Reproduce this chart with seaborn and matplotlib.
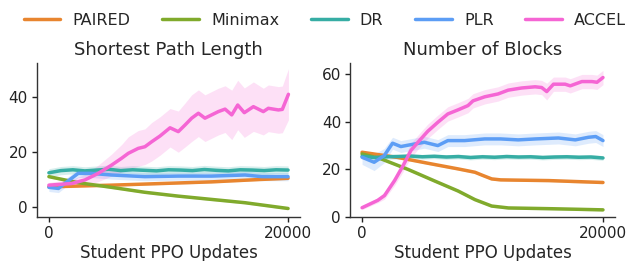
import numpy as np
import pandas as pd
import matplotlib
matplotlib.use("Agg")
import matplotlib.pyplot as plt
import seaborn as sns

methods = ["PAIRED", "Minimax", "DR", "PLR", "ACCEL"]
colors = ["#e8852f", "#80aa2c", "#36ada4", "#5c9df5", "#f565d4"]

titles = ["Shortest Path Length", "Number of Blocks"]
xlabel = "Student PPO Updates"

# ---------------- Shortest Path Length ----------------
sp_paired_x = [0, 5240, 9430, 13610, 17800, 20000]
sp_paired_y = [7.4, 8.0, 8.6, 9.2, 10.1, 10.5]
sp_paired_ci = [0.4, 0.4, 0.4, 0.4, 0.4, 0.4]

sp_minimax_x = [0, 2450, 5240, 8030, 10820, 13610, 16400, 20000]
sp_minimax_y = [11.1, 8.9, 7.2, 5.4, 4.0, 2.8, 1.6, -0.5]
sp_minimax_ci = [0.4, 0.4, 0.4, 0.4, 0.4, 0.4, 0.4, 0.4]

sp_dr_x = [0, 1000, 2000, 3000, 4000, 5000, 6000, 7000, 8000, 9000, 10000,
           11000, 12000, 13000, 14000, 15000, 16000, 17000, 18000, 19000, 20000]
sp_dr_y = [12.5, 13.3, 13.6, 13.2, 13.5, 13.8, 13.3, 13.6, 13.4, 13.2, 13.6,
           13.5, 13.3, 13.7, 13.4, 13.2, 13.6, 13.5, 13.3, 13.6, 13.5]
sp_dr_ci = [1.5] * 21

sp_plr_x = [0, 800, 1500, 2450, 3500, 5240, 8030, 10820, 13610, 16400, 17800, 20000]
sp_plr_y = [7.2, 6.8, 9.2, 12.3, 12.3, 11.7, 11.1, 11.3, 11.3, 11.7, 11.1, 11.1]
sp_plr_ci = [1.5, 1.5, 1.5, 1.5, 1.5, 1.5, 1.5, 1.5, 1.5, 1.5, 1.5, 1.5]

sp_accel_x = [0, 1900, 3010, 4130, 5240, 6080, 6640, 7470, 8030, 8590, 9290,
              10130, 10820, 11380, 11940, 12500, 13050, 13610, 14170, 14730,
              15290, 15790, 16340, 17100, 17930, 18350, 19190, 19520, 20030]
sp_accel_y = [8.0, 8.6, 9.9, 12.3, 15.3, 17.8, 19.6, 21.4, 22.0, 23.8, 25.9,
              28.9, 27.5, 29.9, 32.4, 34.2, 32.4, 33.6, 34.8, 35.7,
              33.6, 37.2, 34.4, 36.6, 34.8, 36.0, 35.4, 35.6, 41.1]
sp_accel_ci = [1.0, 1.5, 2.0, 3.0, 4.0, 5.0, 6.0, 6.5, 6.5, 7.0, 7.0,
               7.0, 7.5, 8.0, 8.5, 8.5, 8.5, 8.5, 8.5, 8.5,
               9.0, 9.0, 9.0, 9.0, 8.5, 8.5, 8.5, 8.5, 9.3]

# ---------------- Number of Blocks ----------------
nb_paired_x = [0, 2980, 5760, 7980, 9370, 10000, 10760, 11500, 12680, 15500, 18270, 20000]
nb_paired_y = [27.2, 25.0, 22.3, 20.2, 18.8, 17.5, 16.0, 15.6, 15.5, 15.3, 14.8, 14.5]
nb_paired_ci = [0.5] * 12

nb_minimax_x = [0, 1590, 3810, 6040, 7980, 9370, 10760, 12150, 15500, 18270, 20000]
nb_minimax_y = [26.5, 24.4, 20.0, 15.1, 10.9, 7.3, 4.6, 3.8, 3.5, 3.2, 3.0]
nb_minimax_ci = [0.5] * 11

nb_dr_x = sp_dr_x
nb_dr_y = [25.5, 25.0, 25.3, 25.4, 25.6, 25.3, 25.5, 25.2, 25.4, 25.0, 25.3,
           25.1, 25.4, 25.2, 25.3, 25.0, 25.2, 25.3, 25.1, 25.2, 24.8]
nb_dr_ci = [1.0] * 21

nb_plr_x = [0, 1000, 1840, 2530, 3220, 4060, 5170, 6290, 7120, 8510, 10180,
            11500, 12960, 14400, 16300, 17700, 18800, 19400, 20000]
nb_plr_y = [25.1, 23.0, 25.8, 31.0, 29.6, 30.4, 31.4, 30.0, 32.1, 32.1, 32.8,
            32.8, 32.4, 32.8, 33.2, 32.4, 33.5, 33.8, 32.1]
nb_plr_ci = [3.0, 3.5, 3.0, 2.5, 2.5, 2.5, 2.5, 2.5, 2.5, 2.5, 2.5,
             2.5, 2.5, 2.5, 2.5, 2.5, 2.5, 2.5, 2.5]

nb_accel_x = [0, 1300, 1860, 2700, 3400, 4060, 4760, 5450, 6290, 7120, 7960,
              8790, 9210, 10180, 11290, 12130, 13240, 14360, 14910, 15330,
              15890, 16860, 17280, 18250, 19090, 19500, 20000]
nb_accel_y = [3.9, 7.0, 9.0, 15.3, 21.5, 28.0, 32.1, 36.0, 39.8, 43.3, 45.0,
              46.8, 48.8, 50.5, 51.7, 53.3, 54.2, 54.7, 54.4, 52.7,
              55.8, 55.8, 55.1, 56.9, 56.9, 56.6, 58.6]
nb_accel_ci = [0.8, 1.0, 1.5, 2.0, 2.5, 3.0, 3.0, 3.0, 3.0, 3.0, 3.0,
               3.0, 3.0, 3.0, 3.0, 3.0, 3.0, 3.0, 3.0, 3.5,
               3.0, 3.0, 3.0, 3.0, 3.0, 3.0, 3.0]

panels = [
    [(sp_paired_x, sp_paired_y, sp_paired_ci), (sp_minimax_x, sp_minimax_y, sp_minimax_ci),
     (sp_dr_x, sp_dr_y, sp_dr_ci), (sp_plr_x, sp_plr_y, sp_plr_ci),
     (sp_accel_x, sp_accel_y, sp_accel_ci)],
    [(nb_paired_x, nb_paired_y, nb_paired_ci), (nb_minimax_x, nb_minimax_y, nb_minimax_ci),
     (nb_dr_x, nb_dr_y, nb_dr_ci), (nb_plr_x, nb_plr_y, nb_plr_ci),
     (nb_accel_x, nb_accel_y, nb_accel_ci)],
]
yticks = [[0, 20, 40], [0, 20, 40, 60]]
ylims = [(-3.6, 52.5), (0, 64.7)]

sns.set_theme(style="ticks")
plt.rcParams["font.family"] = ["DejaVu Sans"]
plt.rcParams["axes.linewidth"] = 1.0
plt.rcParams["axes.edgecolor"] = "#333333"

fig = plt.figure(figsize=(6.37, 2.61), dpi=100)
axes = [fig.add_axes([0.058, 0.1686, 0.413, 0.59]),
        fig.add_axes([0.5495, 0.1686, 0.416, 0.59])]

for ax, series, title, yt, yl in zip(axes, panels, titles, yticks, ylims):
    for name, color, (xs, ys, ci) in zip(methods, colors, series):
        df = pd.DataFrame({"x": xs, "y": ys, "ci": ci})
        ax.fill_between(df["x"], df["y"] - df["ci"], df["y"] + df["ci"],
                        color=color, alpha=0.2, linewidth=0)
        sns.lineplot(data=df, x="x", y="y", ax=ax, color=color, lw=2.5, label=name,
                     legend=False)
    ax.set_title(title, fontsize=13, pad=6)
    ax.set_xlabel(xlabel, fontsize=12, labelpad=2)
    ax.set_ylabel("")
    ax.set_xticks([0, 20000])
    ax.set_yticks(yt)
    ax.set_xlim(-1000, 21000)
    ax.set_ylim(*yl)
    ax.tick_params(labelsize=11, length=3.5, width=1.0, pad=3, colors="#222222")
    sns.despine(ax=ax)

handles, labels = axes[0].get_legend_handles_labels()
leg = fig.legend(handles, labels, loc="upper center", bbox_to_anchor=(0.51, 1.005),
                 ncol=5, frameon=False, fontsize=11.5, handlelength=2.3,
                 handletextpad=0.75, columnspacing=2.0)
for line in leg.get_lines():
    line.set_linewidth(2.5)

fig.savefig("out.png", dpi=100)
